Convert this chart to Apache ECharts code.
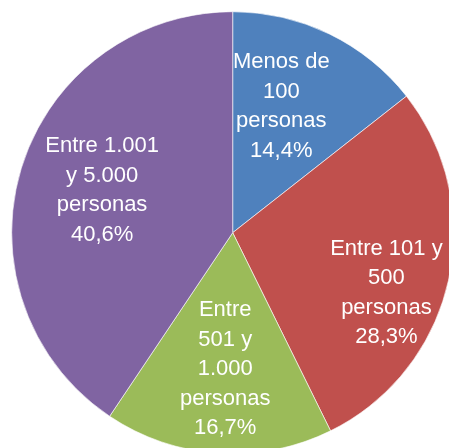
<!DOCTYPE html>
<html>
<head>
<meta charset="utf-8">
<script src="https://cdn.jsdelivr.net/npm/echarts@6/dist/echarts.min.js"></script>
<style>
  html, body { margin: 0; padding: 0; background: #fff; }
  #chart { width: 449px; height: 448px; }
</style>
</head>
<body>
<div id="chart"></div>
<script>
// categorias y porcentajes
const categories = [
  'Menos de\n100\npersonas',
  'Entre 101 y\n500\npersonas',
  'Entre\n501 y\n1.000\npersonas',
  'Entre 1.001\ny 5.000\npersonas'
]
const values = [14.4, 28.3, 16.7, 40.6]
const colors = ['#4F81BD', '#C0504D', '#9BBB59', '#8064A2']
// desplazamiento de las etiquetas respecto a la posicion 'inside'
const labelShift = [[-1, -24], [43, 35], [0, 23], [-22, -9]]

const myChart = echarts.init(document.getElementById('chart'))
const option = {
  animation: false,
  series: [
    {
      type: 'pie',
      center: [232.7, 232.7],
      radius: 221,
      startAngle: 90,
      clockwise: true,
      avoidLabelOverlap: false,
      itemStyle: {
        borderColor: 'rgba(255,255,255,0.6)',
        borderWidth: 1
      },
      label: {
        show: true,
        position: 'inside',
        color: '#fff',
        fontFamily: '"Liberation Sans Narrow", "Arial Narrow", "Liberation Sans", sans-serif',
        fontSize: 22,
        lineHeight: 29.5,
        align: 'center',
        formatter: function (p) {
          return p.name + '\n' + p.value.toFixed(1).replace('.', ',') + '%'
        }
      },
      labelLine: { show: false },
      labelLayout: function (params) {
        const s = labelShift[params.dataIndex]
        return { dx: s[0], dy: s[1] }
      },
      emphasis: { disabled: true },
      data: categories.map((name, i) => ({
        name: name,
        value: values[i],
        itemStyle: { color: colors[i] }
      }))
    }
  ]
}
myChart.setOption(option)
</script>
</body>
</html>
